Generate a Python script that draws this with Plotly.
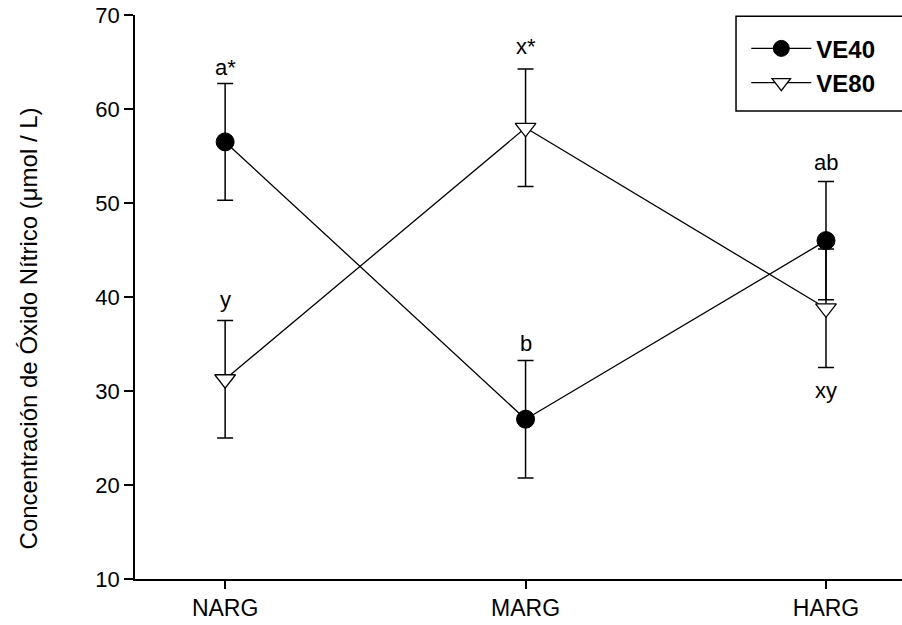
import plotly.graph_objects as go

categories = ["NARG", "MARG", "HARG"]
ve40_mean = [56.5, 27.0, 46.0]
ve40_err = [6.2, 6.25, 6.3]
ve80_mean = [31.25, 58.0, 38.8]
ve80_err = [6.25, 6.25, 6.3]
y_ticks = [10, 20, 30, 40, 50, 60, 70]

label_text = ["a*", "y", "x*", "b", "ab", "xy"]
label_cat = [0, 0, 1, 1, 2, 2]
label_y = [64.4, 39.7, 66.6, 35.1, 54.3, 30.1]

xpos = list(range(len(categories)))
FONT = "Liberation Sans, Arial, sans-serif"

fig = go.Figure()
fig.add_trace(go.Scatter(
    x=xpos, y=ve40_mean, name="VE40", mode="lines+markers",
    line=dict(color="black", width=1.3),
    marker=dict(symbol="circle", size=18, color="black", line=dict(color="black", width=1)),
    error_y=dict(type="data", array=ve40_err, visible=True, color="black", thickness=1.5, width=8),
))
fig.add_trace(go.Scatter(
    x=xpos, y=ve80_mean, name="VE80", mode="lines+markers",
    line=dict(color="black", width=1.3),
    marker=dict(symbol="triangle-down", size=18, color="white", line=dict(color="black", width=1.3)),
    error_y=dict(type="data", array=ve80_err, visible=True, color="black", thickness=1.5, width=8),
))

for t, c, yv in zip(label_text, label_cat, label_y):
    fig.add_annotation(x=c, y=yv, text=t, showarrow=False, xref="x", yref="y",
                       font=dict(family=FONT, size=22, color="black"))

fig.add_annotation(text="Concentración de Óxido Nítrico (μmol / L)", textangle=-90,
                   xref="paper", yref="paper", x=-0.139, y=0.445, showarrow=False,
                   xanchor="center", yanchor="middle",
                   font=dict(family=FONT, size=24, color="black"))

# legend box
fig.add_shape(type="rect", xref="paper", yref="paper", x0=0.7836, x1=1.05, y0=0.830, y1=0.998,
              line=dict(color="black", width=1.5), fillcolor="white", layer="below")

fig.update_layout(
    width=902, height=625,
    margin=dict(l=135, r=0, t=15, b=46, autoexpand=False),
    paper_bgcolor="white", plot_bgcolor="white",
    font=dict(family=FONT, size=22, color="black"),
    showlegend=True,
    legend=dict(x=0.797, y=0.98, xanchor="left", yanchor="top", bgcolor="rgba(0,0,0,0)",
                borderwidth=0, itemwidth=60, tracegroupgap=0,
                font=dict(family=FONT, size=24, color="black", weight="bold")),
    xaxis=dict(range=[-0.3, 2.253], tickvals=xpos, ticktext=categories, showgrid=False,
               zeroline=False, showline=True, linecolor="black", linewidth=1.5,
               ticks="outside", ticklen=8, tickwidth=1.5, tickcolor="black", automargin=False,
               ticklabeloverflow="allow", tickfont=dict(family=FONT, size=23)),
    yaxis=dict(range=[10, 70], tickvals=y_ticks, showgrid=False, zeroline=False,
               showline=True, linecolor="black", linewidth=1.5,
               ticks="outside", ticklen=9, tickwidth=1.5, tickcolor="black", automargin=False,
               ticklabeloverflow="allow", tickfont=dict(family=FONT, size=22)),
)

fig.write_html("out.html", config={"displayModeBar": False},
               post_script="document.body.style.margin='0';")
